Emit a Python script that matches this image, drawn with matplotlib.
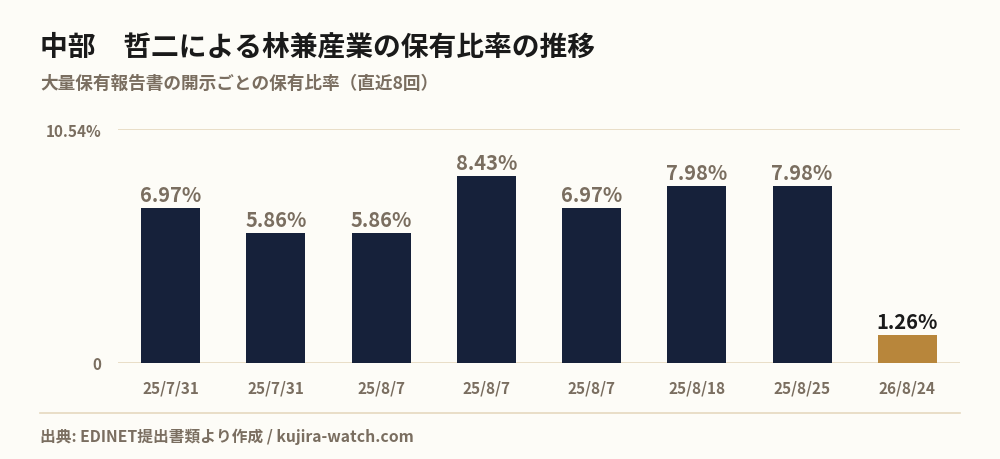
import matplotlib
matplotlib.use("Agg")
import matplotlib.pyplot as plt
from matplotlib.lines import Line2D

plt.rcParams['font.family'] = ['Noto Sans CJK JP', 'DejaVu Sans']

title = "中部　哲二による林兼産業の保有比率の推移"
subtitle = "大量保有報告書の開示ごとの保有比率（直近8回）"
footer = "出典: EDINET提出書類より作成 / kujira-watch.com"
dates = ["25/7/31", "25/7/31", "25/8/7", "25/8/7", "25/8/7", "25/8/18", "25/8/25", "26/8/24"]
ratios = [6.97, 5.86, 5.86, 8.43, 6.97, 7.98, 7.98, 1.26]
ymax = 10.54
ytick_labels = ["0", "10.54%"]

BG = "#fdfcf7"
NAVY = "#16213a"
GOLD = "#b8863b"
GRID = "#e6d9bf"
GREY = "#7a6e60"
DARK = "#1a1a1a"

fig = plt.figure(figsize=(10, 4.6), dpi=100, facecolor=BG)
ax = fig.add_axes([0.118, 96/460, 0.842, 234/460])
ax.set_facecolor(BG)

x = list(range(len(dates)))
colors = [NAVY] * (len(dates) - 1) + [GOLD]
bars = ax.bar(x, ratios, width=0.56, color=colors, zorder=3)

ax.set_xlim(-0.5, len(dates) - 0.5)
ax.set_ylim(0, ymax)
ax.set_yticks([0, ymax])
ax.set_yticklabels(ytick_labels)
ax.yaxis.grid(True, color=GRID, linewidth=1.2, zorder=0)
ax.set_xticks(x)
ax.set_xticklabels(dates)
ax.tick_params(axis='both', length=0, labelsize=11, labelcolor=GREY)
ax.tick_params(axis='x', pad=12)
ax.tick_params(axis='y', pad=12)
for lab in ax.get_xticklabels() + ax.get_yticklabels():
    lab.set_fontweight('bold')
for s in ax.spines.values():
    s.set_visible(False)

for i, (b, v) in enumerate(zip(bars, ratios)):
    col = DARK if i == len(ratios) - 1 else GREY
    ax.annotate(f"{v:.2f}%", (b.get_x() + b.get_width() / 2, v),
                xytext=(0, 2), textcoords="offset points",
                ha='center', va='bottom', fontsize=14.5, fontweight='bold', color=col)

fig.text(0.04, 1 - 48/460, title, fontsize=20, fontweight='bold', color=DARK, va='center', ha='left')
fig.text(0.04, 1 - 84/460, subtitle, fontsize=12.7, fontweight='bold', color=GREY, va='center', ha='left')
fig.add_artist(Line2D([0.04, 0.96], [1 - 414/460, 1 - 414/460], color=GRID, linewidth=1.2))
fig.text(0.04, 1 - 437/460, footer, fontsize=11.3, fontweight='bold', color=GREY, va='center', ha='left')

fig.savefig("out.png", dpi=100, facecolor=BG)
